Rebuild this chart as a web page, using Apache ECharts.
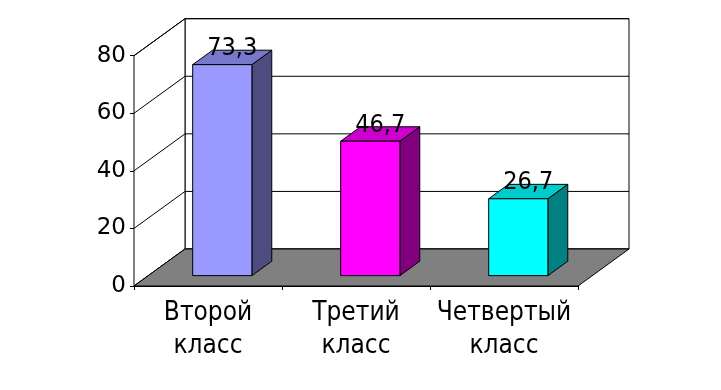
<!DOCTYPE html>
<html>
<head>
<meta charset="utf-8">
<script src="https://cdn.jsdelivr.net/npm/echarts@6/dist/echarts.min.js"></script>
<style>html,body{margin:0;padding:0;background:#fff}#c{width:721px;height:390px}</style>
</head>
<body>
<div id="c"></div>
<script>
const categories = ['Второй\nкласс', 'Третий\nкласс', 'Четвертый\nкласс'];
const values = [73.3, 46.7, 26.7];
const valueLabels = ['73,3', '46,7', '26,7'];
const yTicks = [0, 20, 40, 60, 80];

const frontColors = ['#9999FF', '#FF00FF', '#00FFFF'];
const topColors = ['#7777CC', '#CC00CC', '#00CCCC'];
const sideColors = ['#4C4C80', '#800080', '#008080'];

const FONT = '"DejaVu Sans", Verdana, sans-serif';
const CFONT = '"DejaVu Sans Condensed", "DejaVu Sans", sans-serif';
const DX = 51, DY = -37;          // wall depth
const BF = 0.28;                  // bar front depth fraction
const BD = 0.39;                  // bar depth fraction

const chart = echarts.init(document.getElementById('c'), null, {renderer: 'canvas'});

function wallsRender(params, api) {
  const cw = api.size([1, 0])[0];
  const xl = api.coord([0, 0])[0] - cw / 2;
  const xr = api.coord([categories.length - 1, 0])[0] + cw / 2;
  const y0 = api.coord([0, 0])[1];
  const yTop = api.coord([0, yTicks[yTicks.length - 1]])[1];
  const line = {stroke: '#000', lineWidth: 1, fill: 'none'};
  const children = [];
  children.push({type: 'polygon', shape: {points: [[xl + DX, yTop + DY], [xr + DX, yTop + DY], [xr + DX, y0 + DY], [xl + DX, y0 + DY]]}, style: {fill: '#fff', stroke: '#000', lineWidth: 1}});
  children.push({type: 'polygon', shape: {points: [[xl, y0], [xl, yTop], [xl + DX, yTop + DY], [xl + DX, y0 + DY]]}, style: {fill: '#fff', stroke: '#000', lineWidth: 1}});
  yTicks.forEach(function (t) {
    const y = api.coord([0, t])[1];
    children.push({type: 'polyline', shape: {points: [[xl, y], [xl + DX, y + DY], [xr + DX, y + DY]]}, style: line});
  });
  children.push({type: 'polygon', shape: {points: [[xl, y0], [xr, y0], [xr + DX, y0 + DY], [xl + DX, y0 + DY]]}, style: {fill: '#808080', stroke: '#000', lineWidth: 1}});
  return {type: 'group', children: children};
}

function barRender(params, api) {
  const i = api.value(0);
  const v = api.value(1);
  const cw = api.size([1, 0])[0];
  const w = cw * 0.4;
  const c = api.coord([i, v]);
  const b = api.coord([i, 0]);
  const ox = DX * BF, oy = DY * BF;
  const dx = DX * BD, dy = DY * BD;
  const x1 = c[0] + ox - w / 2, x2 = c[0] + ox + w / 2;
  const yt = c[1] + oy, yb = b[1] + oy;
  const st = {stroke: '#000', lineWidth: 1, lineJoin: 'miter'};
  return {
    type: 'group',
    children: [
      {type: 'polygon', shape: {points: [[x2, yt], [x2 + dx, yt + dy], [x2 + dx, yb + dy], [x2, yb]]}, style: Object.assign({fill: sideColors[i]}, st)},
      {type: 'polygon', shape: {points: [[x1, yt], [x2, yt], [x2 + dx, yt + dy], [x1 + dx, yt + dy]]}, style: Object.assign({fill: topColors[i]}, st)},
      {type: 'rect', shape: {x: x1, y: yt, width: w, height: yb - yt}, style: Object.assign({fill: frontColors[i]}, st)},
      {type: 'text', style: {text: valueLabels[i], x: (x1 + x2) / 2 + dx / 2, y: yt - 16, align: 'center', verticalAlign: 'middle', font: '25px ' + CFONT, fill: '#000'}}
    ]
  };
}

chart.setOption({
  animation: false,
  backgroundColor: '#fff',
  grid: {left: 134, right: 143, top: 55.7, bottom: 104, outerBoundsMode: 'none'},
  xAxis: {
    type: 'category',
    data: categories,
    axisLine: {lineStyle: {color: '#000', width: 1}},
    axisTick: {show: true, length: 4, interval: 0, lineStyle: {color: '#000'}},
    axisLabel: {interval: 0, color: '#000', fontSize: 26, lineHeight: 33, fontFamily: CFONT, margin: 11},
    splitLine: {show: false}
  },
  yAxis: {
    type: 'value',
    min: 0, max: 80, interval: 20,
    axisLine: {show: true, lineStyle: {color: '#000', width: 1}},
    axisTick: {show: true, length: 4, lineStyle: {color: '#000'}},
    axisLabel: {color: '#000', fontSize: 23, fontFamily: FONT, margin: 8},
    splitLine: {show: false}
  },
  series: [
    {type: 'custom', renderItem: wallsRender, data: [[0, 0]], z: 1, silent: true},
    {type: 'custom', renderItem: barRender, data: values.map(function (v, i) { return [i, v]; }), encode: {x: 0, y: 1}, z: 3}
  ]
});
</script>
</body>
</html>
